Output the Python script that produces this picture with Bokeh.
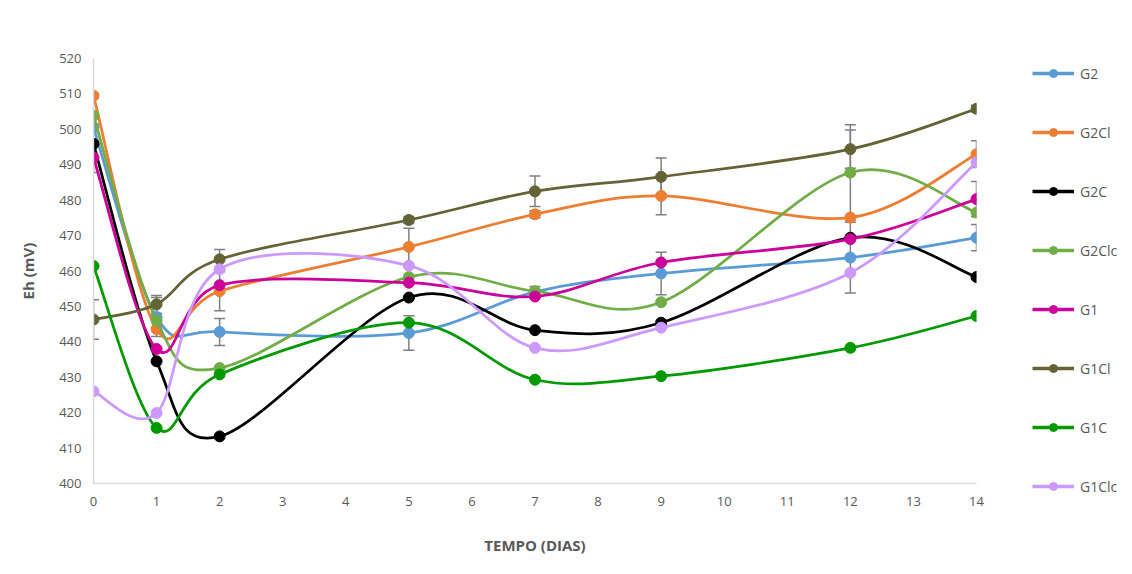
from bokeh.plotting import figure
from bokeh.models import ColumnDataSource, Whisker, TeeHead, Legend, LegendItem, FixedTicker
from bokeh.embed import file_html
from bokeh.resources import INLINE

days = [0, 1, 2, 5, 7, 9, 12, 14]
series_names = ["G2", "G2Cl", "G2C", "G2Clc", "G1", "G1Cl", "G1C", "G1Clc"]
G2 = [500.5, 447.0, 442.8, 442.5, 454.1, 459.3, 463.8, 469.4]
G2Cl = [509.5, 443.6, 454.3, 466.8, 476.0, 481.2, 475.1, 493.0]
G2C = [495.9, 434.5, 413.3, 452.5, 443.3, 445.4, 469.4, 458.3]
G2Clc = [503.9, 446.0, 432.6, 458.3, 454.3, 451.2, 487.8, 476.5]
G1 = [492.0, 438.0, 456.0, 456.7, 452.8, 462.4, 469.0, 480.3]
G1Cl = [446.3, 450.6, 463.3, 474.4, 482.5, 486.6, 494.4, 505.8]
G1C = [461.4, 415.7, 430.8, 445.4, 429.3, 430.3, 438.3, 447.3]
G1Clc = [426.0, 419.9, 460.5, 461.5, 438.3, 444.0, 459.5, 490.7]

G2_err = [1.0, 5.5, 3.8, 4.9, 1.5, 6.0, 10.0, 3.7]
G2Cl_err = [0.6, 0, 5.5, 5.3, 1.0, 5.3, 0, 3.8]
G2C_err = [0, 0, 0, 0, 0, 0, 0, 0]
G2Clc_err = [0, 0, 0, 0, 0, 0, 13.5, 0]
G1_err = [4.2, 0, 0, 0, 0, 0, 0, 5.0]
G1Cl_err = [5.6, 2.5, 2.8, 1.0, 4.3, 5.3, 5.4, 1.0]
G1C_err = [0, 0, 0, 0, 0, 0, 0, 0]
G1Clc_err = [0, 0, 0, 0, 0, 0, 0, 0]

values = [G2, G2Cl, G2C, G2Clc, G1, G1Cl, G1C, G1Clc]
errors = [G2_err, G2Cl_err, G2C_err, G2Clc_err, G1_err, G1Cl_err, G1C_err, G1Clc_err]
colors = ["#5B9BD5", "#ED7D31", "#000000", "#70AD47", "#CC0099", "#636336", "#009A00", "#CC99FF"]

FONT = "'Liberation Sans Narrow', 'Open Sans', sans-serif"
GREY = "#595959"

p = figure(output_backend="svg", toolbar_location=None,
           frame_width=883, frame_height=425,
           x_range=(0, 14), y_range=(400, 520),
           min_border_left=93, min_border_top=58, min_border_bottom=83, min_border_right=148)
p.xgrid.visible = False
p.ygrid.visible = False
p.outline_line_color = None

for ax in (p.xaxis[0], p.yaxis[0]):
    ax.axis_line_color = "#D9D9D9"
    ax.axis_line_width = 1.5
    ax.major_tick_line_color = None
    ax.minor_tick_line_color = None
    ax.major_label_text_font = FONT
    ax.major_label_text_font_size = "13px"
    ax.major_label_text_color = GREY
    ax.axis_label_text_font = FONT
    ax.axis_label_text_font_size = "15px"
    ax.axis_label_text_color = GREY
    ax.axis_label_text_font_style = "bold"
p.xaxis.ticker = FixedTicker(ticks=list(range(0, 15)))
p.yaxis.ticker = FixedTicker(ticks=list(range(400, 521, 10)))
p.xaxis.axis_label = "TEMPO (DIAS)"
p.yaxis.axis_label = "Eh (mV)"
p.xaxis.major_label_standoff = 7
p.xaxis.axis_label_standoff = 26
p.yaxis.major_label_standoff = 6
p.yaxis.axis_label_standoff = 18


def bezier_segments(xs, ys):
    n = len(xs)
    out = dict(x0=[], y0=[], x1=[], y1=[], cx0=[], cy0=[], cx1=[], cy1=[])
    for i in range(n - 1):
        a = max(i - 1, 0)
        d = min(i + 2, n - 1)
        out["x0"].append(xs[i]); out["y0"].append(ys[i])
        out["x1"].append(xs[i + 1]); out["y1"].append(ys[i + 1])
        out["cx0"].append(xs[i] + (xs[i + 1] - xs[a]) / 6.0)
        out["cy0"].append(ys[i] + (ys[i + 1] - ys[a]) / 6.0)
        out["cx1"].append(xs[i + 1] - (xs[d] - xs[i]) / 6.0)
        out["cy1"].append(ys[i + 1] - (ys[d] - ys[i]) / 6.0)
    return out

items = []
for name, ys, errs, col in zip(series_names, values, errors, colors):
    seg = ColumnDataSource(bezier_segments(days, ys))
    p.bezier(x0="x0", y0="y0", x1="x1", y1="y1", cx0="cx0", cy0="cy0", cx1="cx1", cy1="cy1",
             source=seg, line_color=col, line_width=2.75)
    ex = [d for d, e in zip(days, errs) if e > 0]
    if ex:
        up = [y + e for y, e in zip(ys, errs) if e > 0]
        lo = [y - e for y, e in zip(ys, errs) if e > 0]
        wsrc = ColumnDataSource(dict(base=ex, upper=up, lower=lo))
        w = Whisker(base="base", upper="upper", lower="lower", source=wsrc,
                    line_color="#7F7F7F", line_width=1.5,
                    upper_head=TeeHead(size=11, line_color="#7F7F7F", line_width=1.5),
                    lower_head=TeeHead(size=11, line_color="#7F7F7F", line_width=1.5))
        p.add_layout(w)
    sc = p.scatter(days, ys, marker="circle", size=11, fill_color=col, line_color=col)
    lr = p.line([float("nan")], [float("nan")], line_color=col, line_width=3.5)
    items.append(LegendItem(label=name, renderers=[lr, sc]))

legend = Legend(items=items, location=(56, -13), orientation="vertical",
                glyph_width=42, glyph_height=20, spacing=39, padding=0, margin=0,
                label_standoff=6, border_line_color=None, background_fill_alpha=0,
                label_text_font=FONT, label_text_font_size="14px", label_text_color=GREY)
p.add_layout(legend, "right")

open("out.html", "w").write(file_html(p, INLINE))
